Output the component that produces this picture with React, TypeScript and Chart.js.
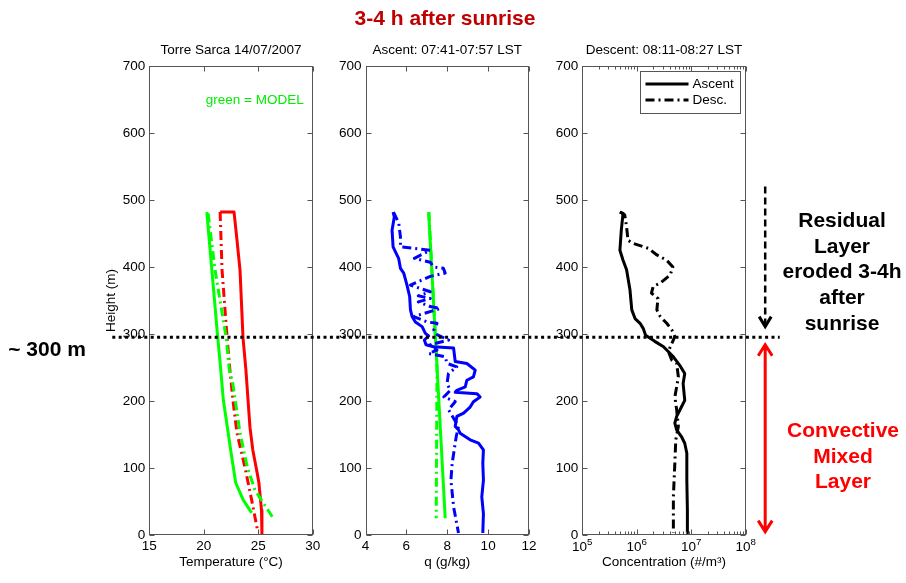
import { useEffect, useRef } from "react";
import { Chart, registerables } from "chart.js";

Chart.register(...registerables);

const W = 906;
const H = 583;
const SANS = "'Liberation Sans', Arial, Helvetica, sans-serif";
Chart.defaults.font.family = SANS;

/* ---------------- values ---------------- */

const HEIGHT_TICKS = [0, 100, 200, 300, 400, 500, 600, 700];
const TEMP_TICKS = [15, 20, 25, 30];
const Q_TICKS = [4, 6, 8, 10, 12];
const CONC_DECADES = [5, 6, 7, 8];

// [temperature (°C), height (m)]
const TEMP_OBS_ASCENT: [number, number][] = [
  [21.5, 482], [22.78, 482], [23.05, 440], [23.33, 395], [23.6, 295], [23.87, 246],
  [24.24, 161], [24.5, 127], [24.9, 93], [25.06, 78], [25.3, 37], [25.34, 0],
];
const TEMP_OBS_DESCENT: [number, number][] = [
  [21.5, 482], [21.68, 395], [22.14, 295], [22.4, 246], [22.68, 201], [23.05, 152],
  [23.78, 101], [24.4, 52], [24.97, 4],
];
const TEMP_MODEL_ASCENT: [number, number][] = [
  [20.28, 482], [21.28, 295], [21.56, 246], [21.8, 201], [22.47, 127], [22.93, 78],
  [23.63, 52], [24.4, 33],
];
const TEMP_MODEL_DESCENT: [number, number][] = [
  [20.4, 480], [21.04, 395], [22.05, 295], [22.35, 246], [22.66, 227], [23.33, 152],
  [24.0, 101], [24.7, 67], [26.38, 25],
];

// [specific humidity q (g/kg), height (m)]
const Q_OBS_ASCENT: [number, number][] = [
  [5.35, 482], [5.41, 475], [5.3, 455], [5.35, 430], [5.46, 423], [5.62, 413],
  [5.71, 398], [5.87, 391], [6.03, 373], [6.16, 356], [6.2, 336], [6.28, 326],
  [6.44, 318], [6.77, 311], [6.93, 301], [7.09, 297], [6.88, 291], [6.96, 284],
  [7.33, 281], [8.31, 279], [8.39, 259], [8.96, 256], [9.37, 246], [9.28, 236],
  [8.96, 231], [8.88, 221], [8.47, 216], [8.39, 213], [9.45, 211], [9.61, 206],
  [9.28, 199], [9.12, 191], [8.8, 182], [8.47, 177], [8.39, 162], [8.55, 157],
  [8.63, 152], [9.12, 142], [9.53, 137], [9.77, 127], [9.74, 107], [9.77, 82],
  [9.69, 57], [9.77, 32], [9.74, 3],
];
const Q_OBS_DESCENT: [number, number][] = [
  [5.37, 482], [5.63, 465], [5.71, 445], [5.71, 430], [7.17, 425], [6.39, 413],
  [7.17, 407], [7.33, 400], [7.81, 398], [7.9, 391], [7.17, 386], [6.2, 373],
  [7.17, 363], [6.58, 357], [7.17, 353], [6.58, 348], [7.17, 341], [7.66, 338],
  [6.36, 326], [7.01, 318], [7.5, 316], [7.34, 306], [7.5, 299], [8.07, 291],
  [7.17, 284], [7.5, 276], [7.09, 271], [7.9, 266], [7.99, 256], [8.47, 251],
  [8.06, 241], [7.99, 226], [8.15, 216], [7.83, 206], [8.39, 199], [8.06, 187],
  [8.55, 162], [8.44, 147], [8.24, 107], [8.18, 82], [8.31, 42], [8.55, 3],
];
const Q_MODEL_ASCENT: [number, number][] = [[7.09, 482], [7.9, 25]];
const Q_MODEL_DESCENT: [number, number][] = [[7.1, 482], [7.5, 250], [7.46, 25]];

// [particle concentration (#/m³), height (m)]
const CONC_ASCENT: [number, number][] = [
  [4.9e5, 482], [5.6e5, 480], [5.2e5, 455], [4.9e5, 425], [5.6e5, 410], [6.5e5, 396],
  [7.5e5, 366], [8.1e5, 336], [9.3e5, 323], [1.15e6, 316], [1.32e6, 308], [1.45e6, 298],
  [2.14e6, 289], [3.1e6, 281], [4.7e6, 266], [6.3e6, 252], [7.6e6, 241], [7.1e6, 226],
  [7.6e6, 201], [6.6e6, 191], [5.4e6, 177], [5.0e6, 167], [5.4e6, 157], [6.6e6, 147],
  [7.6e6, 137], [8.3e6, 122], [8.3e6, 82], [8.5e6, 37], [8.5e6, 3],
];
const CONC_DESCENT: [number, number][] = [
  [4.9e5, 482], [6.0e5, 478], [6.5e5, 460], [6.9e5, 440], [8.7e5, 435], [1.62e6, 428],
  [2.34e6, 418], [3.55e6, 410], [4.6e6, 400], [4.1e6, 388], [2.7e6, 376], [2.0e6, 371],
  [1.86e6, 361], [2.45e6, 353], [2.34e6, 336], [2.7e6, 326], [3.55e6, 316], [4.4e6, 306],
  [5.0e6, 296], [4.4e6, 286], [3.8e6, 274], [4.4e6, 261], [5.4e6, 256], [5.8e6, 236],
  [5.4e6, 221], [5.0e6, 206], [5.4e6, 187], [5.8e6, 162], [5.2e6, 142], [5.0e6, 107],
  [4.7e6, 57], [4.7e6, 3],
];

// heights (m) of the layer annotations
const MIXED_LAYER_TOP = 295;
const RESIDUAL_ARROW = [520, 311];
const MIXED_ARROW = [284, 5];

/* ---------------- layout & style ---------------- */

const PLOT_TOP = 66;
const PLOT_BOTTOM = 535;
const PANEL_X: [number, number][] = [
  [149.3, 312.7],
  [365.5, 529],
  [582.3, 745.7],
];
const Y_AXIS_W = 46;
const X_AXIS_H = 35;
const FS = 13.5;
const LH = FS * 1.2;
const TITLE_TOP = 50 - LH / 2;
const TITLE_GAP = PLOT_TOP - TITLE_TOP - LH;

const RED = "#ff0000";
const GREEN = "#00ff00";
const BLUE = "#0000ff";
const BLACK = "#000000";
const DASH_DOT = [9, 4, 2, 4];

const toPoints = (arr: [number, number][]) => arr.map(([x, y]) => ({ x, y }));

function series(arr: [number, number][], color: string, dash: number[], width = 3) {
  return {
    data: toPoints(arr),
    borderColor: color,
    borderWidth: width,
    borderDash: dash,
    pointRadius: 0,
    fill: false,
    tension: 0,
    borderJoinStyle: "round",
    borderCapStyle: "butt",
  };
}

/* ---------------- plugins ---------------- */

// MATLAB-like box with inward ticks on all four sides
const framePlugin = {
  id: "frame",
  afterDatasetsDraw(chart: any, _a: any, opts: any) {
    const { ctx, chartArea: a } = chart;
    const xs = chart.scales.x;
    const ys = chart.scales.y;
    const L = Math.round(a.left) + 0.5;
    const R = Math.round(a.right) - 0.5;
    const T = Math.round(a.top) + 0.5;
    const B = Math.round(a.bottom) - 0.5;
    ctx.save();
    ctx.setLineDash([]);
    ctx.strokeStyle = "#555";
    ctx.lineWidth = 1;
    ctx.strokeRect(L, T, R - L, B - T);
    ctx.beginPath();
    for (const v of opts.yMajor) {
      const y = Math.round(ys.getPixelForValue(v)) + 0.5;
      ctx.moveTo(L, y);
      ctx.lineTo(L + 5, y);
      ctx.moveTo(R, y);
      ctx.lineTo(R - 5, y);
    }
    for (const v of opts.xMajor) {
      const x = Math.round(xs.getPixelForValue(v)) + 0.5;
      ctx.moveTo(x, B);
      ctx.lineTo(x, B - 5);
      ctx.moveTo(x, T);
      ctx.lineTo(x, T + 5);
    }
    for (const v of opts.xMinor || []) {
      const x = Math.round(xs.getPixelForValue(v)) + 0.5;
      ctx.moveTo(x, B);
      ctx.lineTo(x, B - 3);
      ctx.moveTo(x, T);
      ctx.lineTo(x, T + 3);
    }
    ctx.stroke();
    ctx.restore();
  },
};

// "green = MODEL" note in the temperature panel
const modelNotePlugin = {
  id: "modelNote",
  afterDatasetsDraw(chart: any) {
    const { ctx, chartArea: a } = chart;
    ctx.save();
    ctx.font = `${FS}px ${SANS}`;
    ctx.fillStyle = "#00ee00";
    ctx.textAlign = "right";
    ctx.textBaseline = "middle";
    ctx.fillText("green = MODEL", a.right - 9, a.top + 34);
    ctx.restore();
  },
};

// 10^n labels for the logarithmic axis
const logLabelPlugin = {
  id: "logLabels",
  afterDraw(chart: any) {
    const { ctx, chartArea: a } = chart;
    const xs = chart.scales.x;
    ctx.save();
    ctx.fillStyle = "#000";
    ctx.textBaseline = "middle";
    ctx.textAlign = "left";
    for (const d of CONC_DECADES) {
      const x = xs.getPixelForValue(Math.pow(10, d));
      ctx.font = `${FS}px ${SANS}`;
      const wb = ctx.measureText("10").width;
      ctx.font = `${FS * 0.72}px ${SANS}`;
      const we = ctx.measureText(String(d)).width;
      const x0 = x - (wb + we) / 2;
      const y = a.bottom + 3 + LH / 2 + 1;
      ctx.font = `${FS}px ${SANS}`;
      ctx.fillText("10", x0, y);
      ctx.font = `${FS * 0.72}px ${SANS}`;
      ctx.fillText(String(d), x0 + wb, y - 5);
    }
    ctx.restore();
  },
};

// legend box of the concentration panel
const legendPlugin = {
  id: "boxLegend",
  afterDatasetsDraw(chart: any) {
    const { ctx, chartArea: a } = chart;
    const bw = 100;
    const bh = 42;
    const x = Math.round(a.right - 6 - bw) + 0.5;
    const y = Math.round(a.top + 5) + 0.5;
    ctx.save();
    ctx.fillStyle = "#fff";
    ctx.fillRect(x, y, bw, bh);
    ctx.strokeStyle = "#555";
    ctx.lineWidth = 1;
    ctx.strokeRect(x, y, bw, bh);
    const rows = chart.data.datasets.map((ds: any, i: number) => ({ ds, yy: y + 12.5 + i * 16 }));
    for (const { ds, yy } of rows) {
      ctx.strokeStyle = ds.borderColor;
      ctx.lineWidth = ds.borderWidth;
      ctx.setLineDash(ds.borderDash);
      ctx.beginPath();
      ctx.moveTo(x + 5, yy);
      ctx.lineTo(x + 48, yy);
      ctx.stroke();
      ctx.setLineDash([]);
      ctx.fillStyle = "#000";
      ctx.font = `${FS}px ${SANS}`;
      ctx.textBaseline = "middle";
      ctx.textAlign = "left";
      ctx.fillText(ds.label, x + 52, yy);
    }
    ctx.restore();
  },
};

// boundary line across all panels and the layer arrows
const layerPlugin = {
  id: "layers",
  afterDraw(chart: any) {
    const { ctx } = chart;
    const ys = chart.scales.y;
    const yb = ys.getPixelForValue(MIXED_LAYER_TOP);
    const x0 = PANEL_X[0][0] - 37;
    const x1 = PANEL_X[2][1] + 34;
    const ax = PANEL_X[2][1] + 19.5;
    ctx.save();
    // dotted boundary
    ctx.strokeStyle = BLACK;
    ctx.lineWidth = 3;
    ctx.setLineDash([3, 3.4]);
    ctx.beginPath();
    ctx.moveTo(x0, yb);
    ctx.lineTo(x1, yb);
    ctx.stroke();

    // residual layer eroding: dashed arrow pointing down
    const r0 = ys.getPixelForValue(RESIDUAL_ARROW[0]);
    const r1 = ys.getPixelForValue(RESIDUAL_ARROW[1]);
    ctx.lineWidth = 2.5;
    ctx.setLineDash([7, 4]);
    ctx.beginPath();
    ctx.moveTo(ax, r0);
    ctx.lineTo(ax, r1 - 2);
    ctx.stroke();
    ctx.setLineDash([]);
    ctx.lineWidth = 3;
    ctx.beginPath();
    ctx.moveTo(ax - 6, r1 - 10);
    ctx.lineTo(ax, r1);
    ctx.lineTo(ax + 6, r1 - 10);
    ctx.stroke();

    // convective mixed layer: double arrow
    const m0 = ys.getPixelForValue(MIXED_ARROW[0]);
    const m1 = ys.getPixelForValue(MIXED_ARROW[1]);
    ctx.strokeStyle = RED;
    ctx.lineWidth = 3;
    ctx.beginPath();
    ctx.moveTo(ax, m0 + 1);
    ctx.lineTo(ax, m1 - 1);
    ctx.moveTo(ax - 7, m0 + 11);
    ctx.lineTo(ax, m0);
    ctx.lineTo(ax + 7, m0 + 11);
    ctx.moveTo(ax - 7, m1 - 11);
    ctx.lineTo(ax, m1);
    ctx.lineTo(ax + 7, m1 - 11);
    ctx.stroke();
    ctx.restore();
  },
};

/* ---------------- chart configs ---------------- */

const tickFont = { family: SANS, size: FS };

function panelOptions(panel: number, title: string, xScale: any, xTitle: string, showYTitle: boolean, frame: any) {
  const [left, right] = PANEL_X[panel];
  return {
    responsive: false,
    animation: false,
    devicePixelRatio: 1,
    events: [],
    layout: {
      padding: {
        left: left - Y_AXIS_W,
        right: W - right,
        top: TITLE_TOP,
        bottom: H - PLOT_BOTTOM - X_AXIS_H,
      },
    },
    plugins: {
      legend: { display: false },
      tooltip: { enabled: false },
      title: {
        display: true,
        fullSize: false,
        text: title,
        color: "#000",
        font: { family: SANS, size: FS, weight: "normal" },
        padding: { top: 0, bottom: TITLE_GAP },
      },
      frame,
    },
    scales: {
      x: {
        ...xScale,
        position: "bottom",
        grid: { display: false, drawTicks: false },
        border: { display: false },
        afterFit: (s: any) => {
          s.height = X_AXIS_H;
        },
        title: {
          display: true,
          text: xTitle,
          color: "#000",
          font: { family: SANS, size: FS },
          padding: { top: 0, bottom: 0 },
        },
      },
      y: {
        type: "linear",
        min: 0,
        max: 700,
        grid: { display: false, drawTicks: false },
        border: { display: false },
        ticks: { stepSize: 100, padding: 4, color: "#000", font: tickFont },
        afterFit: (s: any) => {
          s.width = Y_AXIS_W;
        },
        title: {
          display: showYTitle,
          text: "Height (m)",
          color: "#000",
          font: { family: SANS, size: FS },
          padding: { top: 0, bottom: 0 },
        },
      },
    },
  };
}

function tempConfig(): any {
  return {
    type: "line",
    data: {
      datasets: [
        series(TEMP_MODEL_ASCENT, GREEN, []),
        series(TEMP_MODEL_DESCENT, GREEN, DASH_DOT),
        series(TEMP_OBS_DESCENT, RED, DASH_DOT),
        series(TEMP_OBS_ASCENT, RED, []),
      ],
    },
    options: panelOptions(
      0,
      "Torre Sarca 14/07/2007",
      { type: "linear", min: 15, max: 30, ticks: { stepSize: 5, padding: 3, color: "#000", font: tickFont } },
      "Temperature (°C)",
      true,
      { xMajor: TEMP_TICKS, yMajor: HEIGHT_TICKS }
    ),
    plugins: [framePlugin, modelNotePlugin],
  };
}

function humidityConfig(): any {
  return {
    type: "line",
    data: {
      datasets: [
        series(Q_OBS_DESCENT, BLUE, DASH_DOT),
        series(Q_OBS_ASCENT, BLUE, []),
        series(Q_MODEL_DESCENT, GREEN, DASH_DOT),
        series(Q_MODEL_ASCENT, GREEN, []),
      ],
    },
    options: panelOptions(
      1,
      "Ascent: 07:41-07:57 LST",
      { type: "linear", min: 4, max: 12, ticks: { stepSize: 2, padding: 3, color: "#000", font: tickFont } },
      "q (g/kg)",
      false,
      { xMajor: Q_TICKS, yMajor: HEIGHT_TICKS }
    ),
    plugins: [framePlugin],
  };
}

function concentrationConfig(): any {
  const minor: number[] = [];
  for (const d of CONC_DECADES.slice(0, -1)) {
    for (let m = 2; m <= 9; m++) minor.push(m * Math.pow(10, d));
  }
  return {
    type: "line",
    data: {
      datasets: [
        { ...series(CONC_ASCENT, BLACK, [], 3), label: "Ascent" },
        { ...series(CONC_DESCENT, BLACK, DASH_DOT, 3), label: "Desc." },
      ],
    },
    options: panelOptions(
      2,
      "Descent: 08:11-08:27 LST",
      { type: "logarithmic", min: 1e5, max: 1e8, ticks: { display: false } },
      "Concentration (#/m³)",
      false,
      { xMajor: CONC_DECADES.map((d) => Math.pow(10, d)), xMinor: minor, yMajor: HEIGHT_TICKS }
    ),
    plugins: [framePlugin, legendPlugin, logLabelPlugin, layerPlugin],
  };
}

/* ---------------- component ---------------- */

const layerStyle: any = { position: "absolute", left: 0, top: 0 };

function Note(props: { x: number; y: number; w: number; color: string; size: number; lh: number; lines: string[] }) {
  return (
    <div
      style={{
        position: "absolute",
        left: props.x - props.w / 2,
        top: props.y,
        width: props.w,
        textAlign: "center",
        color: props.color,
        fontFamily: SANS,
        fontWeight: "bold",
        fontSize: props.size,
        lineHeight: `${props.lh}px`,
        whiteSpace: "nowrap",
      }}
    >
      {props.lines.map((l) => (
        <div key={l}>{l}</div>
      ))}
    </div>
  );
}

export default function App() {
  const c1 = useRef<HTMLCanvasElement>(null);
  const c2 = useRef<HTMLCanvasElement>(null);
  const c3 = useRef<HTMLCanvasElement>(null);

  useEffect(() => {
    const charts = [
      new Chart(c1.current!, tempConfig()),
      new Chart(c2.current!, humidityConfig()),
      new Chart(c3.current!, concentrationConfig()),
    ];
    return () => charts.forEach((c) => c.destroy());
  }, []);

  return (
    <div style={{ position: "fixed", left: 0, top: 0, width: W, height: H, background: "#fff", overflow: "hidden" }}>
      <canvas ref={c1} width={W} height={H} style={layerStyle} />
      <canvas ref={c2} width={W} height={H} style={layerStyle} />
      <canvas ref={c3} width={W} height={H} style={layerStyle} />
      <Note x={445} y={7} w={260} color="#c00000" size={21} lh={22} lines={["3-4 h after sunrise"]} />
      <Note x={47} y={338} w={100} color="#000" size={21} lh={22} lines={["~ 300 m"]} />
      <Note
        x={842}
        y={207}
        w={130}
        color="#000"
        size={21}
        lh={25.7}
        lines={["Residual", "Layer", "eroded 3-4h", "after", "sunrise"]}
      />
      <Note x={843} y={417} w={130} color="#ff0000" size={21} lh={25.7} lines={["Convective", "Mixed", "Layer"]} />
    </div>
  );
}
